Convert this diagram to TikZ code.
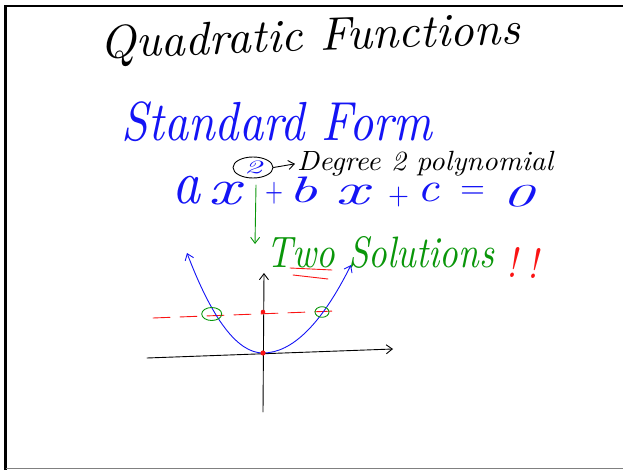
\documentclass[tikz,border=0pt]{standalone}
\usepackage{graphicx}
\usetikzlibrary{arrows.meta,shapes.geometric}
\definecolor{inkblue}{RGB}{20,20,245}
\definecolor{inkgreen}{RGB}{10,150,10}
\definecolor{inkred}{RGB}{250,20,20}
\newcommand\hwfit[3]{\resizebox*{#1pt}{#2pt}{\itshape #3}}
\begin{document}
\begin{tikzpicture}[x=1pt,y=-1pt,
  hw/.style={inner sep=0pt, outer sep=0pt, anchor=center},
  pen/.style={line width=0.9pt, line cap=round, line join=round},
  barb/.style={-{Straight Barb[length=6pt,width=9pt]}},
  dbarb/.style={{Straight Barb[length=6pt,width=9pt]}-{Straight Barb[length=6pt,width=9pt]}},
]
\useasboundingbox (0,0) rectangle (623,470);
% frame
\draw[line width=2.5pt] (5.5,470) -- (5.5,6) -- (623,6);
\draw[gray, line width=1pt] (5.5,468.5) -- (623,468.5);

% title
\node[hw, rotate=2] (title) at (310,39) {\hwfit{420}{42}{Quadratic Functions}};
\node[hw, text=inkblue] (std) at (277,122) {\hwfit{310}{40}{Standard Form}};

% exponent and note
\node[ellipse, draw, pen, minimum width=40pt, minimum height=21pt, inner sep=0pt, text=inkblue] (exp) at (253,167.5) {\hwfit{18}{13}{2}};
\node[hw] (deg) at (425,163.5) {\hwfit{256}{25}{Degree 2 polynomial}};
\draw[pen, barb, shorten >=2pt] (exp.east) -- (deg.west);

% equation
\begin{scope}[every node/.style={hw, text=inkblue}]
\node (ea) at (186,190) {\hwfit{28}{28}{a}};
\node (ex1) at (225,193.5) {\hwfit{32}{23}{x}};
\node (ep1) at (274,193) {\hwfit{18}{22}{$+$}};
\node (eb) at (302.5,190) {\hwfit{29}{26}{b}};
\node (ex2) at (352.5,195) {\hwfit{33}{20}{x}};
\node (ep2) at (398.5,196.5) {\hwfit{21}{20}{$+$}};
\node (ec) at (428,192.5) {\hwfit{22}{19}{c}};
\node (eeq) at (472.5,192.5) {\hwfit{25}{12}{$=$}};
\node (ezero) at (517.5,196) {\hwfit{31}{22}{0}};
\end{scope}

% green arrow
\coordinate (gtop) at (256,185);
\coordinate (gtip) at (255,244);
\draw[pen, inkgreen, barb] (gtop) -- (gtip);

% two solutions
\node[hw, text=inkgreen] (two) at (380,252) {\hwfit{228}{32}{Two Solutions}};
\node[hw, text=inkred] (bang1) at (512,262) {\hwfit{11}{30}{!}};
\node[hw, text=inkred] (bang2) at (533,263) {\hwfit{11}{30}{!}};
\draw[pen, inkred] (290,268) -- (332,270);
\draw[pen, inkred] (293,275) -- (328,279);

% graph
\coordinate (xl) at (147,358);
\coordinate (xr) at (393,349);
\coordinate (yb) at (263,412);
\coordinate (yt) at (264,273);
\draw[pen, barb] (xl) -- (xr);
\draw[pen, barb] (yb) -- (yt);

\coordinate (dl) at (153,318);
\coordinate (dr) at (335,311);
\draw[pen, inkred, dash pattern=on 17pt off 10pt] (dl) -- (dr);

\coordinate (pl) at (187,253);
\coordinate (v) at (263,353);
\coordinate (pr) at (351,265);
\draw[pen, inkblue, dbarb] (pl) .. controls (212.3,319.7) and (237.7,353) .. (v) .. controls (292.3,353) and (321.7,323.7) .. (pr);

\fill[inkred] (263,312) circle (2.3pt);
\fill[inkred] (v) circle (2.6pt);

\draw[pen, inkgreen] (211.7,314) ellipse [x radius=10pt, y radius=6.5pt];
\draw[pen, inkgreen] (322,312) ellipse [x radius=7pt, y radius=5.3pt];
\end{tikzpicture}
\end{document}
